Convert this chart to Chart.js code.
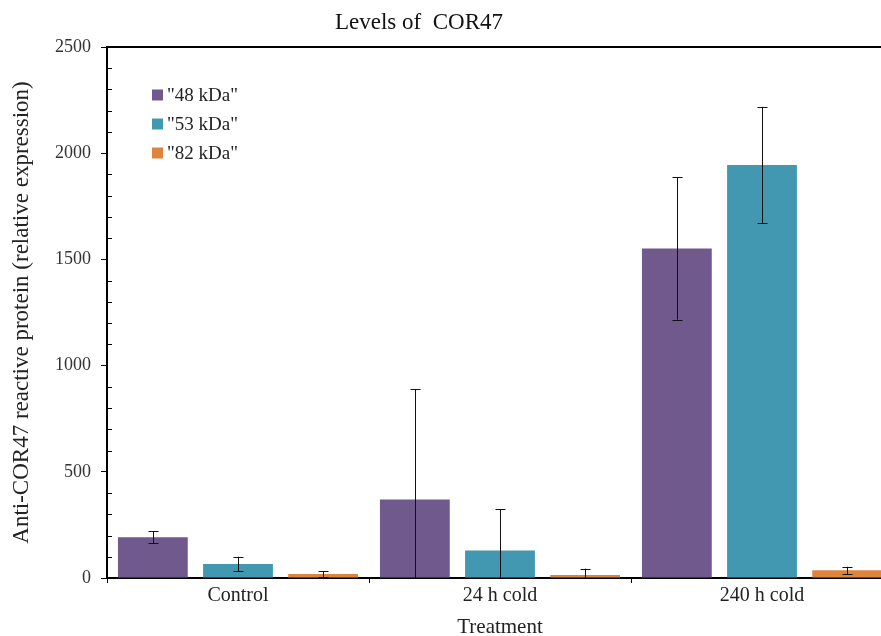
<!DOCTYPE html>
<html lang="en">
<head>
    <meta charset="UTF-8">
    <title>Levels of COR47</title>
    <style>
        html, body { margin: 0; padding: 0; background: #fff; overflow: hidden; }
        #wrap { width: 881px; height: 636px; overflow: hidden; }
    </style>
</head>
<body>
    <div id="wrap">
        <canvas id="corChart" width="895" height="636"></canvas>
    </div>

<script src="https://cdn.jsdelivr.net/npm/chart.js"></script>
<script>
    const categories = ["Control", "24 h cold", "240 h cold"];
    const seriesNames = ['"48 kDa"', '"53 kDa"', '"82 kDa"'];
    const kda48 = [192, 369, 1551];
    const kda53 = [66, 129, 1945];
    const kda82 = [19, 14, 36];
    const err48 = [27, 521, 335];
    const err53 = [34, 194, 273];
    const err82 = [14, 30, 17];
    const yTicks = [0, 500, 1000, 1500, 2000, 2500];

    const colors = ['#70598c', '#4298b0', '#de853d'];
    const FONT = "'Liberation Serif', 'DejaVu Serif', serif";

    // error bars, drawn on top of the bars
    const errorBars = {
        id: 'errorBars',
        afterDatasetsDraw(chart) {
            const ctx = chart.ctx;
            const y = chart.scales.y;
            const area = chart.chartArea;
            ctx.save();
            ctx.strokeStyle = '#111';
            ctx.lineWidth = 1;
            chart.data.datasets.forEach((ds, i) => {
                const meta = chart.getDatasetMeta(i);
                meta.data.forEach((bar, j) => {
                    const v = ds.data[j], e = ds.errors[j];
                    let top = y.getPixelForValue(v + e);
                    let bot = y.getPixelForValue(v - e);
                    const x = Math.round(bar.x) + 0.5;
                    const cTop = Math.max(top, area.top), cBot = Math.min(bot, area.bottom);
                    ctx.beginPath();
                    ctx.moveTo(x, cTop);
                    ctx.lineTo(x, cBot);
                    if (top >= area.top) { ctx.moveTo(x - 5, Math.round(top) + 0.5); ctx.lineTo(x + 5, Math.round(top) + 0.5); }
                    if (bot <= area.bottom - 1) { ctx.moveTo(x - 5, Math.round(bot) + 0.5); ctx.lineTo(x + 5, Math.round(bot) + 0.5); }
                    ctx.stroke();
                });
            });
            ctx.restore();
        }
    };

    // title, top frame line, minor ticks and legend
    const decor = {
        id: 'decor',
        afterDraw(chart) {
            const ctx = chart.ctx;
            const area = chart.chartArea;
            const y = chart.scales.y;
            ctx.save();
            ctx.fillStyle = '#111';
            ctx.font = '23px ' + FONT;
            ctx.textAlign = 'center';
            ctx.textBaseline = 'alphabetic';
            ctx.fillText('Levels of  COR47', 419, 29);

            ctx.strokeStyle = '#000';
            ctx.lineWidth = 2;
            ctx.beginPath();
            ctx.moveTo(area.left, area.top);
            ctx.lineTo(chart.width, area.top);
            ctx.stroke();

            ctx.lineWidth = 1;
            ctx.beginPath();
            for (let v = 100; v < 2500; v += 100) {
                if (v % 500 === 0) continue;
                const py = Math.round(y.getPixelForValue(v)) + 0.5;
                ctx.moveTo(area.left, py);
                ctx.lineTo(area.left + 5, py);
            }
            ctx.stroke();

            ctx.font = '19px ' + FONT;
            ctx.textAlign = 'left';
            ctx.textBaseline = 'middle';
            chart.data.datasets.forEach((ds, i) => {
                const cy = 95 + i * 29;
                ctx.fillStyle = ds.backgroundColor;
                ctx.fillRect(152, cy - 5.5, 11, 11);
                ctx.fillStyle = '#222';
                ctx.fillText(ds.label, 167, cy + 1);
            });
            ctx.restore();
        }
    };

    const ctx = document.getElementById('corChart').getContext('2d');
    const corChart = new Chart(ctx, {
        type: 'bar',
        data: {
            labels: categories,
            datasets: [
                { label: seriesNames[0], data: kda48, errors: err48, backgroundColor: colors[0] },
                { label: seriesNames[1], data: kda53, errors: err53, backgroundColor: colors[1] },
                { label: seriesNames[2], data: kda82, errors: err82, backgroundColor: colors[2] }
            ]
        },
        options: {
            responsive: false,
            animation: false,
            devicePixelRatio: 1,
            categoryPercentage: 0.975,
            barPercentage: 0.82,
            layout: { padding: { top: 47, right: 2, left: 0, bottom: 0 } },
            plugins: {
                legend: { display: false },
                title: { display: false },
                tooltip: { enabled: false }
            },
            scales: {
                x: {
                    afterFit: s => { s.height = 58; },
                    border: { color: '#000', width: 2 },
                    grid: { offset: true, drawOnChartArea: false, tickLength: 5, color: '#000' },
                    ticks: { color: '#222', font: { family: FONT, size: 20 }, padding: 1 },
                    title: { display: true, text: 'Treatment', color: '#222', font: { family: FONT, size: 21, lineHeight: 1 }, padding: { top: 0, bottom: -2 } }
                },
                y: {
                    min: 0,
                    max: 2500,
                    afterFit: s => { s.width = 107; },
                    afterBuildTicks: s => { s.ticks = yTicks.map(v => ({ value: v })); },
                    border: { color: '#000', width: 2 },
                    grid: { drawOnChartArea: false, tickLength: 6, color: '#000' },
                    ticks: { color: '#333', font: { family: FONT, size: 18 }, padding: 10, callback: v => String(v) },
                    title: { display: true, text: 'Anti-COR47 reactive protein (relative expression)', color: '#222', font: { family: FONT, size: 23, lineHeight: 1 }, padding: { top: 10, bottom: 0 } }
                }
            }
        },
        plugins: [errorBars, decor]
    });
</script>
</body>
</html>
